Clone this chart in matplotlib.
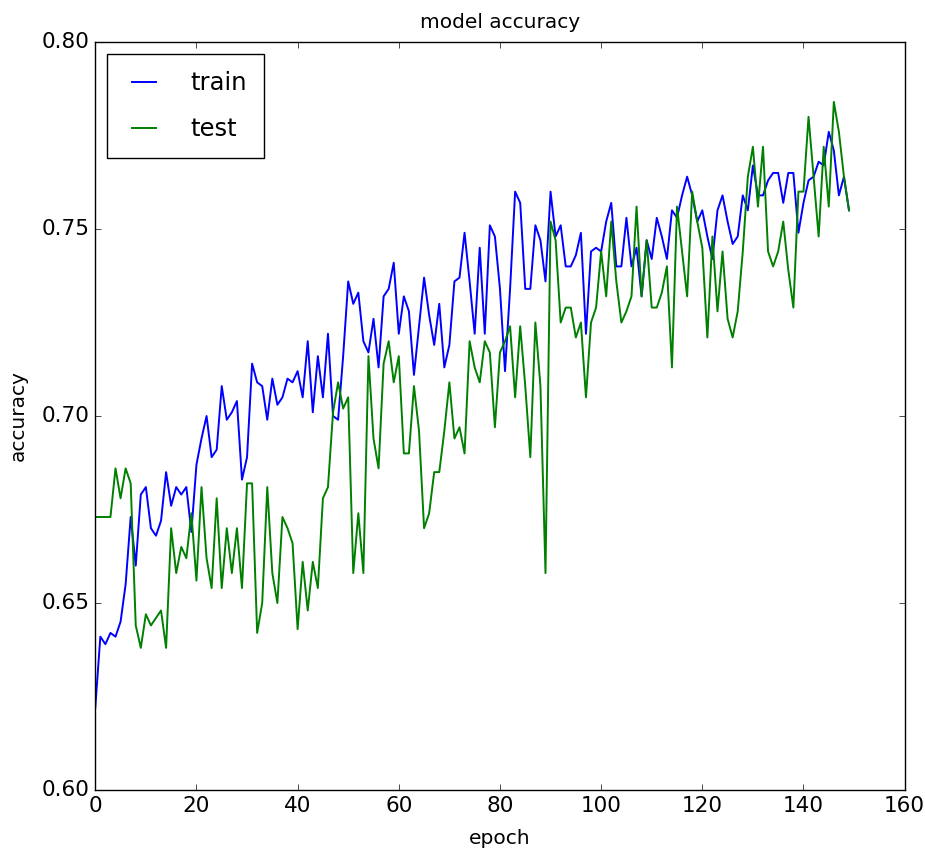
import matplotlib
matplotlib.use("Agg")
import matplotlib.pyplot as plt

plt.style.use("classic")

train_acc = [
    0.622, 0.641, 0.639, 0.642, 0.641, 0.645, 0.655, 0.673, 0.660, 0.679,
    0.681, 0.670, 0.668, 0.672, 0.685, 0.676, 0.681, 0.679, 0.681, 0.669,
    0.687, 0.694, 0.700, 0.689, 0.691, 0.708, 0.699, 0.701, 0.704, 0.683,
    0.689, 0.714, 0.709, 0.708, 0.699, 0.710, 0.703, 0.705, 0.710, 0.709,
    0.712, 0.705, 0.720, 0.701, 0.716, 0.705, 0.722, 0.700, 0.699, 0.716,
    0.736, 0.730, 0.733, 0.720, 0.717, 0.726, 0.713, 0.732, 0.734, 0.741,
    0.722, 0.732, 0.728, 0.711, 0.724, 0.737, 0.727, 0.719, 0.730, 0.713,
    0.719, 0.736, 0.737, 0.749, 0.736, 0.722, 0.745, 0.722, 0.751, 0.748,
    0.734, 0.712, 0.734, 0.760, 0.757, 0.734, 0.734, 0.751, 0.747, 0.736,
    0.760, 0.748, 0.751, 0.740, 0.740, 0.743, 0.749, 0.722, 0.744, 0.745,
    0.744, 0.752, 0.757, 0.740, 0.740, 0.753, 0.740, 0.745, 0.732, 0.747,
    0.742, 0.753, 0.748, 0.742, 0.755, 0.753, 0.759, 0.764, 0.759, 0.752,
    0.755, 0.748, 0.742, 0.755, 0.759, 0.752, 0.746, 0.748, 0.759, 0.755,
    0.767, 0.759, 0.759, 0.763, 0.765, 0.765, 0.757, 0.765, 0.765, 0.749,
    0.757, 0.763, 0.764, 0.768, 0.767, 0.776, 0.771, 0.759, 0.764, 0.755,
]

test_acc = [
    0.673, 0.673, 0.673, 0.673, 0.686, 0.678, 0.686, 0.682, 0.644, 0.638,
    0.647, 0.644, 0.646, 0.648, 0.638, 0.670, 0.658, 0.665, 0.662, 0.674,
    0.656, 0.681, 0.662, 0.654, 0.678, 0.654, 0.670, 0.658, 0.670, 0.654,
    0.682, 0.682, 0.642, 0.650, 0.681, 0.658, 0.650, 0.673, 0.670, 0.666,
    0.643, 0.661, 0.648, 0.661, 0.654, 0.678, 0.681, 0.701, 0.709, 0.702,
    0.705, 0.658, 0.674, 0.658, 0.716, 0.694, 0.686, 0.714, 0.720, 0.709,
    0.716, 0.690, 0.690, 0.708, 0.696, 0.670, 0.674, 0.685, 0.685, 0.696,
    0.709, 0.694, 0.697, 0.690, 0.720, 0.713, 0.709, 0.720, 0.717, 0.697,
    0.717, 0.720, 0.724, 0.705, 0.724, 0.708, 0.689, 0.725, 0.708, 0.658,
    0.752, 0.747, 0.725, 0.729, 0.729, 0.721, 0.725, 0.705, 0.725, 0.729,
    0.744, 0.732, 0.752, 0.736, 0.725, 0.728, 0.732, 0.756, 0.732, 0.747,
    0.729, 0.729, 0.733, 0.740, 0.713, 0.756, 0.744, 0.732, 0.760, 0.752,
    0.745, 0.721, 0.748, 0.728, 0.744, 0.726, 0.721, 0.728, 0.744, 0.764,
    0.772, 0.756, 0.772, 0.744, 0.740, 0.744, 0.752, 0.739, 0.729, 0.760,
    0.760, 0.780, 0.764, 0.748, 0.772, 0.756, 0.784, 0.776, 0.764, 0.755,
]

epochs = list(range(len(train_acc)))

fig = plt.figure(figsize=(9.25, 8.65), dpi=100, facecolor="white")
ax = fig.add_axes([0.103, 0.0867, 0.875, 0.8647])

ax.plot(epochs, train_acc, color="b", lw=1.4, label="train")
ax.plot(epochs, test_acc, color="g", lw=1.4, label="test")

ax.set_xlim(0, 160)
ax.set_ylim(0.60, 0.80)
ax.set_xticks(range(0, 161, 20))
ax.set_yticks([0.60, 0.65, 0.70, 0.75, 0.80])
ax.set_yticklabels(["0.60", "0.65", "0.70", "0.75", "0.80"])
ax.tick_params(labelsize=15.5)

ax.set_title("model accuracy", fontsize=14.5, pad=10)
ax.set_xlabel("epoch", fontsize=14.5, labelpad=10)
ax.set_ylabel("accuracy", fontsize=14.5, labelpad=10)
ax.legend(loc="upper left", fontsize=17.5, handlelength=1.6,
          handletextpad=1.1, labelspacing=0.9, borderpad=0.7)

fig.savefig("out.png", dpi=100, facecolor="white")
